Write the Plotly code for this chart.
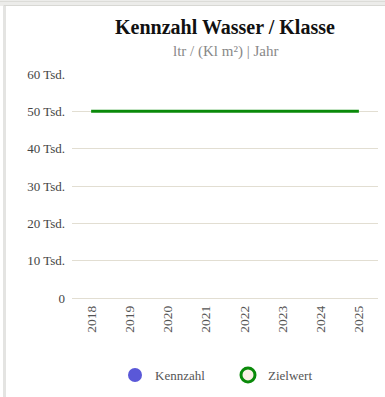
import plotly.graph_objects as go

# Chart data
years = ["2018", "2019", "2020", "2021", "2022", "2023", "2024", "2025"]
kennzahl = [None, None, None, None, None, None, None, None]
zielwert = [50000, 50000, 50000, 50000, 50000, 50000, 50000, 50000]
y_tick_vals = [0, 10000, 20000, 30000, 40000, 50000, 60000]
y_tick_text = ["0", "10 Tsd.", "20 Tsd.", "30 Tsd.", "40 Tsd.", "50 Tsd.", "60 Tsd."]

W, H = 385, 397
L, R, T, B = 72, 7, 74, 99
PW, PH = W - L - R, H - T - B


def px(x):
    return (x - L) / PW


def py(y):
    return 1 - (y - T) / PH


FONT = "Liberation Serif, Times New Roman, serif"

fig = go.Figure()

# Kennzahl series (no values recorded)
fig.add_trace(go.Scatter(
    x=years, y=kennzahl, name="Kennzahl", mode="markers",
    marker=dict(color="#5a58d8", size=14),
))

# Zielwert target line
fig.add_trace(go.Scatter(
    x=years, y=zielwert, name="Zielwert", mode="lines",
    line=dict(color="#0a8a0a", width=3), showlegend=False,
))
# Legend entry for the target line
fig.add_trace(go.Scatter(
    x=[None], y=[None], name="Zielwert", mode="markers",
    marker=dict(color="#fbf0e6", size=14, line=dict(color="#0a8a0a", width=3)),
))

# Card frame
shapes = [
    dict(type="rect", xref="paper", yref="paper", x0=px(0), x1=px(W), y0=py(0), y1=py(6),
         fillcolor="#ececea", line=dict(width=0), layer="below"),
    dict(type="line", xref="paper", yref="paper", x0=px(0), x1=px(W), y0=py(1.5), y1=py(1.5),
         line=dict(color="#dcdcd8", width=1)),
    dict(type="line", xref="paper", yref="paper", x0=px(4), x1=px(W), y0=py(5.5), y1=py(5.5),
         line=dict(color="#d8d8d4", width=1)),
    dict(type="rect", xref="paper", yref="paper", x0=px(3), x1=px(6), y0=py(5), y1=py(H),
         fillcolor="#e4e4e2", line=dict(width=0), layer="below"),
]

fig.update_layout(
    width=W, height=H,
    margin=dict(l=L, r=R, t=T, b=B, autoexpand=False),
    paper_bgcolor="white", plot_bgcolor="white",
    font=dict(family=FONT, color="#444444", size=13),
    shapes=shapes,
    showlegend=True,
    legend=dict(orientation="h", x=px(228), xanchor="center", y=py(375), yanchor="middle",
                font=dict(family=FONT, size=13, color="#555555"),
                itemsizing="trace", entrywidth=68, bgcolor="rgba(0,0,0,0)"),
    annotations=[
        dict(text="<b>Kennzahl Wasser / Klasse</b>", xref="paper", yref="paper",
             x=0.5, y=py(27), xanchor="center", yanchor="middle", showarrow=False,
             font=dict(family=FONT, size=20, color="#111111")),
        dict(text="ltr / (Kl m²) | Jahr", xref="paper", yref="paper",
             x=0.5, y=py(52), xanchor="center", yanchor="middle", showarrow=False,
             font=dict(family=FONT, size=15, color="#888888")),
    ],
)

fig.update_xaxes(
    type="category", categoryorder="array", categoryarray=years,
    range=[-0.5, len(years) - 0.5],
    tickangle=-90, tickfont=dict(family=FONT, size=13.5, color="#555555"),
    showgrid=False, showline=False, zeroline=False, ticks="",
    ticklabelstandoff=4,
)
fig.update_yaxes(
    range=[0, 60000], tickvals=y_tick_vals, ticktext=y_tick_text,
    tickfont=dict(family=FONT, size=13, color="#444444"),
    showgrid=True, gridcolor="#e2ded2", gridwidth=1,
    zeroline=True, zerolinecolor="#e2ded2", zerolinewidth=1,
    ticks="", ticklen=0, showline=False, ticklabelstandoff=6,
)

fig.write_html("out.html")
